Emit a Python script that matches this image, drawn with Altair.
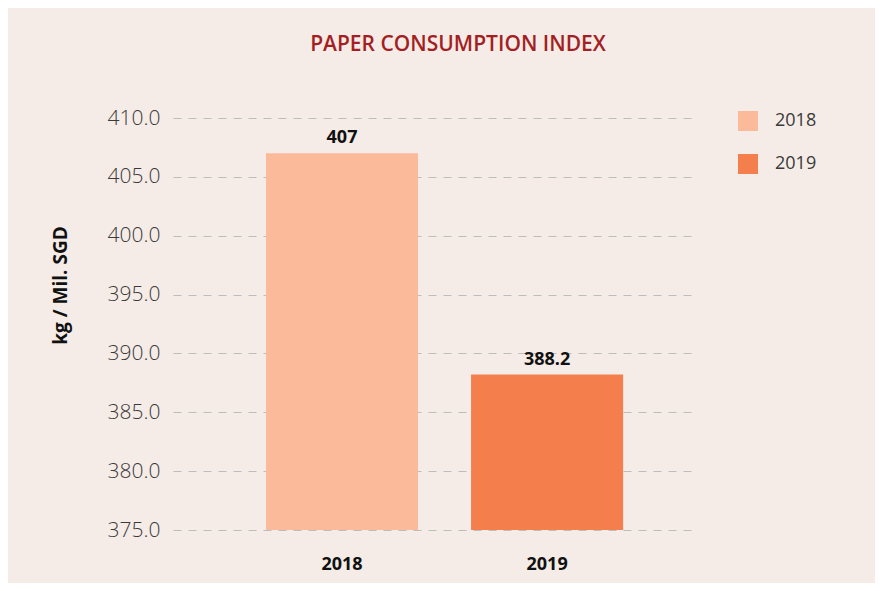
import altair as alt
import pandas as pd

years = ["2018", "2019"]
values = [407, 388.2]
colors = ["#FBBA9A", "#F57F4C"]
y_ticks = [375, 380, 385, 390, 395, 400, 405, 410]

df = pd.DataFrame({"year": years, "value": values})

FONT = "Open Sans"

x_enc = alt.X(
    "year:N",
    title=None,
    scale=alt.Scale(paddingInner=0.2585, paddingOuter=0.402, align=0.564),
    axis=alt.Axis(
        labelAngle=0, labelFont=FONT, labelFontSize=18, labelFontWeight="bold",
        labelColor="#111111", labelPadding=25, ticks=False, domain=False, grid=False,
    ),
)

y_enc = alt.Y(
    "value:Q",
    title="kg / Mil. SGD",
    scale=alt.Scale(domain=[375, 410], zero=False, nice=False),
    axis=alt.Axis(
        values=y_ticks, format=".1f", labelFont=FONT, labelFontSize=21,
        labelFontWeight=300,
        labelColor="#3a3a3a", labelPadding=13, ticks=False, domain=False,
        grid=True, gridDash=[8, 7], gridColor="#BDBDBD", gridWidth=1,
        titleFont=FONT, titleFontSize=19, titleFontWeight="bold", titleColor="#111111",
        titleAngle=270, titleX=-113, titleY=167, titleAlign="center", titleBaseline="middle",
    ),
)

bars = alt.Chart(df).mark_bar().encode(
    x=x_enc,
    y=y_enc,
    y2=alt.datum(375),
    color=alt.Color(
        "year:N",
        scale=alt.Scale(domain=years, range=colors),
        legend=alt.Legend(
            title=None, orient="none", legendX=565, legendY=-7,
            symbolType="square", symbolSize=400, symbolStrokeWidth=0,
            labelFont=FONT, labelFontSize=18, labelColor="#3a3a3a",
            labelOffset=17, rowPadding=23,
        ),
    ),
)

labels = alt.Chart(df).mark_text(
    font=FONT, fontSize=18, fontWeight="bold", color="#111111",
    baseline="bottom", dy=-6,
).encode(
    x=alt.X("year:N"),
    y=alt.Y("value:Q"),
    text=alt.Text("value:Q"),
)

chart = (
    alt.layer(bars, labels)
    .properties(
        width=522,
        height=412,
        title=alt.Title(
            "PAPER CONSUMPTION INDEX", font=FONT, fontSize=21, fontWeight=600,
            color="#A31F24", anchor="middle", frame="group", dx=24, offset=52,
        ),
        background="#F5ECE7",
        autosize=alt.AutoSizeParams(type="none"),
        padding={"left": 165, "top": 110, "right": 180, "bottom": 53},
    )
    .configure_view(stroke=None)
)

chart.save("out.html", embed_options={"renderer": "svg", "actions": False})
